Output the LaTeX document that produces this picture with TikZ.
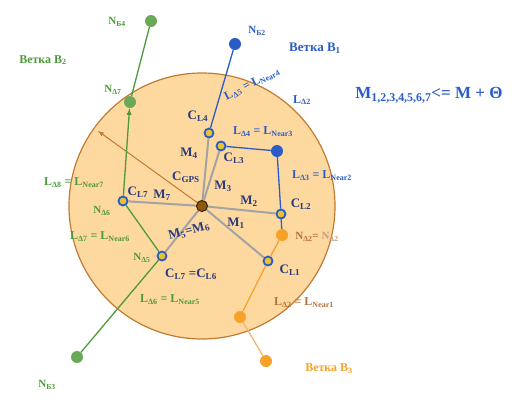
\documentclass[tikz,border=0pt]{standalone}
\usepackage{fontspec}
\setmainfont{Liberation Serif}
\usepackage{xcolor}
\usetikzlibrary{positioning}

\definecolor{diskfill}{HTML}{FDD9A0}
\definecolor{diskedge}{HTML}{C27A30}
\definecolor{brgreen}{HTML}{4E9A3A}
\definecolor{brblue}{HTML}{2A5CC8}
\definecolor{navy}{HTML}{2A3A7C}
\definecolor{brorange}{HTML}{F7A129}
\definecolor{paleorange}{HTML}{F6B46A}
\definecolor{rust}{HTML}{B8703A}
\definecolor{mgray}{HTML}{A3A3A3}
\definecolor{gpsfill}{HTML}{8A5A10}
\definecolor{gpsedge}{HTML}{4A2A08}
\definecolor{ringfill}{HTML}{E9C232}

\begin{document}
\begin{tikzpicture}[x=1pt,y=-1pt,
    ring/.style={circle, draw=brblue, line width=1.8pt, fill=ringfill, inner sep=0pt, minimum size=9pt},
    gdot/.style={circle, fill=brgreen!85, inner sep=0pt, minimum size=12pt},
    bdot/.style={circle, fill=brblue, inner sep=0pt, minimum size=12pt},
    odot/.style={circle, fill=brorange, inner sep=0pt, minimum size=12pt},
    gps/.style={circle, draw=gpsedge, fill=gpsfill, line width=1.2pt, inner sep=0pt, minimum size=11pt},
    mline/.style={mgray, line width=2pt},
    big/.style={font=\bfseries\fontsize{17}{20}\selectfont},
    mid/.style={font=\bfseries\fontsize{13}{15}\selectfont},
    small/.style={font=\bfseries\fontsize{12}{14}\selectfont},
    tiny/.style={font=\bfseries\fontsize{11}{13}\selectfont}]
    \useasboundingbox (0,0) rectangle (514,405);
    \draw[diskedge, fill=diskfill, line width=1.2pt] (202,206) circle (133pt);

    \node[gps] (gps) at (202,206) {};
    \node[ring] (cl1) at (268,261) {};
    \node[ring] (cl2) at (281,214) {};
    \node[ring] (cl3) at (221,146) {};
    \node[ring] (cl4) at (209,133) {};
    \node[ring] (cl6) at (162,256) {};
    \node[ring] (cl7) at (123,201) {};
    \node[bdot] (near3) at (277,151) {};
    \node[bdot] (nb2) at (235,44) {};
    \node[gdot] (nd7) at (130,102) {};
    \node[gdot] (nb4) at (151,21) {};
    \node[gdot] (nb3) at (77,357) {};
    \node[odot] (nd2) at (282,235) {};
    \node[odot] (nd1) at (240,317) {};
    \node[odot] (bend3) at (266,361) {};
    \coordinate (redge) at (98,131);

    \draw[mline] (gps) -- (cl1);
    \draw[mline] (gps) -- (cl2);
    \draw[mline] (gps) -- (cl3);
    \draw[mline] (gps) -- (cl4);
    \draw[mline] (gps) -- (cl6);
    \draw[mline] (gps) -- (cl7);
    \draw[-latex, diskedge, line width=1pt] (gps) -- (redge);

    \draw[brblue, line width=1.3pt] (nb2) -- (cl4);
    \draw[brblue, line width=1.3pt] (cl3) -- (near3.center) -- (cl2);
    \draw[brblue, line width=1.3pt] (cl2) -- (nd2);

    \draw[brgreen, line width=1.3pt] (nb4) -- (nd7);
    \draw[-latex, brgreen, line width=1.3pt] (cl7) -- (nd7);
    \draw[brgreen, line width=1.3pt] (cl7) -- (cl6);
    \draw[brgreen, line width=1.3pt] (cl6) -- (nb3);

    \draw[brorange, line width=1.3pt] (nd2) -- (cl1);
    \draw[brorange, line width=1.3pt] (cl1) -- (nd1);
    \draw[paleorange, line width=1.3pt] (nd1) -- (bend3);

    \node[tiny, text=brgreen] (tnb4) at (117,22) {N\textsubscript{Б4}};
    \node[small, text=brgreen] (tbr2) at (43,60) {Ветка B\textsubscript{2}};
    \node[tiny, text=brgreen] (tnd7) at (113,90) {N\textsubscript{Δ7}};
    \node[small, text=brgreen] (tl8) at (74,183) {L\textsubscript{Δ8} = L\textsubscript{Near7}};
    \node[tiny, text=brgreen] (tnd6) at (102,211) {N\textsubscript{Δ6}};
    \node[small, text=brgreen] (tl7) at (100,237) {L\textsubscript{Δ7} = L\textsubscript{Near6}};
    \node[tiny, text=brgreen] (tnd5) at (142,258) {N\textsubscript{Δ5}};
    \node[small, text=brgreen] (tl6) at (170,300) {L\textsubscript{Δ6} = L\textsubscript{Near5}};
    \node[tiny, text=brgreen] (tnb3) at (47,385) {N\textsubscript{Б3}};

    \node[tiny, text=brblue] (tnb2) at (257,31) {N\textsubscript{Б2}};
    \node[mid, text=brblue] (tbr1) at (315,48) {Ветка B\textsubscript{1}};
    \node[small, text=brblue, rotate=27] (tl5) at (252,84) {L\textsubscript{Δ5} = L\textsubscript{Near4}};
    \node[small, text=brblue] (tl2) at (302,100) {L\textsubscript{Δ2}};
    \node[big, text=brblue] (tform) at (429,95) {M\textsubscript{1,2,3,4,5,6,7}<= M + Θ};
    \node[small, text=brblue] (tl4) at (263,132) {L\textsubscript{Δ4} = L\textsubscript{Near3}};
    \node[small, text=brblue] (tl3) at (322,176) {L\textsubscript{Δ3} = L\textsubscript{Near2}};

    \node[mid, text=navy] (tcl4) at (198,116) {C\textsubscript{L4}};
    \node[mid, text=navy] (tcl3) at (234,158) {C\textsubscript{L3}};
    \node[mid, text=navy] (tm4) at (189,153) {M\textsubscript{4}};
    \node[mid, text=navy] (tgps) at (186,177) {C\textsubscript{GPS}};
    \node[mid, text=navy] (tm3) at (223,186) {M\textsubscript{3}};
    \node[mid, text=navy] (tm2) at (249,201) {M\textsubscript{2}};
    \node[mid, text=navy] (tcl2) at (301,204) {C\textsubscript{L2}};
    \node[mid, text=navy] (tm1) at (236,223) {M\textsubscript{1}};
    \node[mid, text=navy] (tcl1) at (290,270) {C\textsubscript{L1}};
    \node[mid, text=navy] (tm7) at (162,195) {M\textsubscript{7}};
    \node[mid, text=navy] (tcl7) at (138,192) {C\textsubscript{L7}};
    \node[mid, text=navy, rotate=15, inner sep=1pt] (tm56) at (189,231) {M\textsubscript{5}=M\textsubscript{6}};
    \node[mid, text=navy] (tcl76) at (191,274) {C\textsubscript{L7} =C\textsubscript{L6}};

    \node[tiny, text=rust] (tnd2) at (317,237) {N\textsubscript{Δ2}= \textcolor{rust!70}{N\textsubscript{Δ2}}};
    \node[small, text=rust] (tl1) at (304,303) {L\textsubscript{Δ2} = L\textsubscript{Near1}};
    \node[small, text=brorange] (tbr3) at (329,369) {Ветка B\textsubscript{3}};
\end{tikzpicture}
\end{document}
